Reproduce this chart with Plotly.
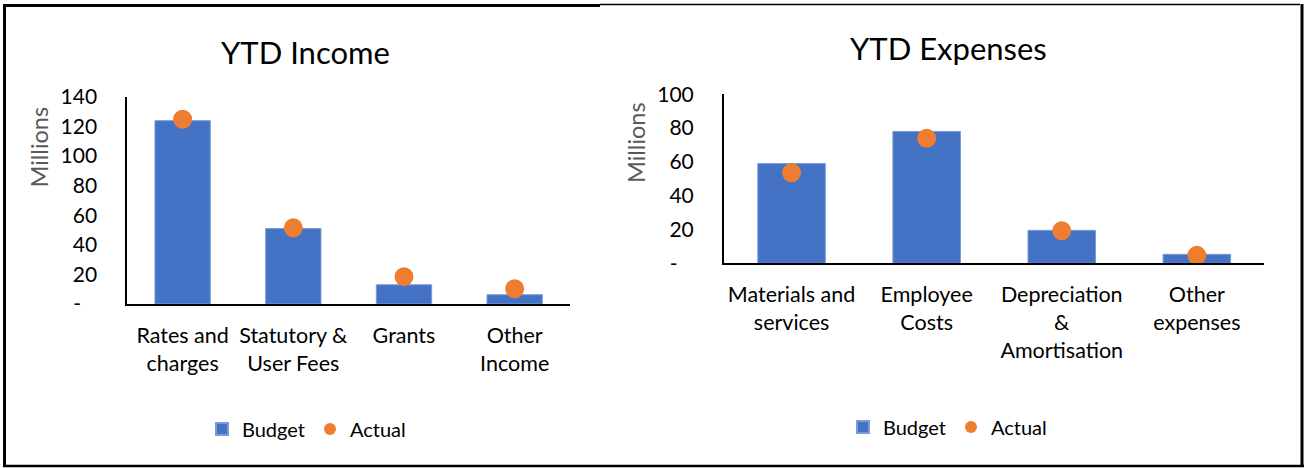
import plotly.graph_objects as go

W, H = 1306, 468

income_categories = ["Rates and<br>charges", "Statutory &<br>User Fees", "Grants", "Other<br>Income"]
income_budget = [124, 51, 13, 6.3]
income_actual = [125, 51.5, 18.5, 10.3]

expense_categories = ["Materials and<br>services", "Employee<br>Costs", "Depreciation<br>&<br>Amortisation", "Other<br>expenses"]
expense_budget = [59, 78, 19.5, 5.3]
expense_actual = [53.6, 74, 19.3, 4.7]

income_ticks = [0, 20, 40, 60, 80, 100, 120, 140]
income_ticktext = ["-\u00a0\u00a0\u00a0"] + [str(v) for v in income_ticks[1:]]
expense_ticks = [0, 20, 40, 60, 80, 100]
expense_ticktext = ["-\u00a0\u00a0\u00a0"] + [str(v) for v in expense_ticks[1:]]

BLUE = "#4472C4"
ORANGE = "#ED7D31"
FONT = "Lato"


def px(x):
    return x / W


def py(y):
    return 1 - y / H


fig = go.Figure()

fig.add_trace(go.Bar(x=income_categories, y=income_budget, name="Budget",
                     marker=dict(color=BLUE, line=dict(color="#7a9bd8", width=1)),
                     xaxis="x", yaxis="y", legend="legend"))
fig.add_trace(go.Scatter(x=income_categories, y=income_actual, name="Actual", mode="markers",
                         marker=dict(color=ORANGE, size=19, line=dict(width=0)),
                         xaxis="x", yaxis="y", legend="legend"))
fig.add_trace(go.Bar(x=expense_categories, y=expense_budget, name="Budget",
                     marker=dict(color=BLUE, line=dict(color="#7a9bd8", width=1)),
                     xaxis="x2", yaxis="y2", legend="legend2"))
fig.add_trace(go.Scatter(x=expense_categories, y=expense_actual, name="Actual", mode="markers",
                         marker=dict(color=ORANGE, size=19, line=dict(width=0)),
                         xaxis="x2", yaxis="y2", legend="legend2"))

xtickfont = dict(family=FONT, size=21.5, color="#000000")
ytickfont = dict(family=FONT, size=21, color="#000000")

xcommon = dict(showgrid=False, zeroline=False, showline=True, linecolor="#000000", linewidth=2,
               ticks="", tickfont=xtickfont, automargin=False, ticklabelstandoff=11, fixedrange=True)
ycommon = dict(showgrid=False, zeroline=False, showline=True, linecolor="#000000", linewidth=2,
               ticks="", tickfont=ytickfont, automargin=False, ticklabelstandoff=24, fixedrange=True)

legfont = dict(family=FONT, size=20, color="#000000")

fig.update_layout(
    width=W, height=H,
    margin=dict(l=0, r=0, t=0, b=0),
    paper_bgcolor="white", plot_bgcolor="white",
    bargap=0.5,
    font=dict(family=FONT, color="#000000"),
    xaxis=dict(domain=[px(127.3), px(570)], anchor="y", **xcommon),
    yaxis=dict(domain=[py(304), py(97)], anchor="x", range=[0, 140],
               tickvals=income_ticks, ticktext=income_ticktext, **ycommon),
    xaxis2=dict(domain=[px(724), px(1264.4)], anchor="y2", **xcommon),
    yaxis2=dict(domain=[py(263.3), py(94.3)], anchor="x2", range=[0, 100],
                tickvals=expense_ticks, ticktext=expense_ticktext, **ycommon),
    legend=dict(orientation="h", x=px(202), y=py(429), xanchor="left", yanchor="middle",
                font=legfont, itemsizing="constant",
                bgcolor="rgba(0,0,0,0)", traceorder="normal"),
    legend2=dict(orientation="h", x=px(843), y=py(427), xanchor="left", yanchor="middle",
                 font=legfont, itemsizing="constant",
                 bgcolor="rgba(0,0,0,0)", traceorder="normal"),
    showlegend=True,
)

annotations = [
    dict(text="YTD Income", x=px(305), y=py(52), font=dict(family=FONT, size=31, color="#000000")),
    dict(text="YTD Expenses", x=px(948), y=py(48), font=dict(family=FONT, size=31, color="#000000")),
    dict(text="Millions", x=px(38.5), y=py(147), textangle=-90, font=dict(family=FONT, size=23.5, color="#595959")),
    dict(text="Millions", x=px(635.5), y=py(142.5), textangle=-90, font=dict(family=FONT, size=23.5, color="#595959")),
]
for a in annotations:
    a.update(xref="paper", yref="paper", showarrow=False, xanchor="center", yanchor="middle")
fig.update_layout(annotations=annotations)

borders = [
    (4.5, 4, 4.5, 467, 3),
    (3, 5.5, 600, 5.5, 3),
    (600, 4.5, 1300, 4.5, 1.5),
    (1302, 4, 1302, 467, 3),
    (3, 466, 1304, 466, 2.5),
]
for x0, y0, x1, y1, w in borders:
    fig.add_shape(type="line", xref="paper", yref="paper", x0=px(x0), y0=py(y0), x1=px(x1), y1=py(y1),
                  line=dict(color="#000000", width=w))

fig.write_html("out.html")
